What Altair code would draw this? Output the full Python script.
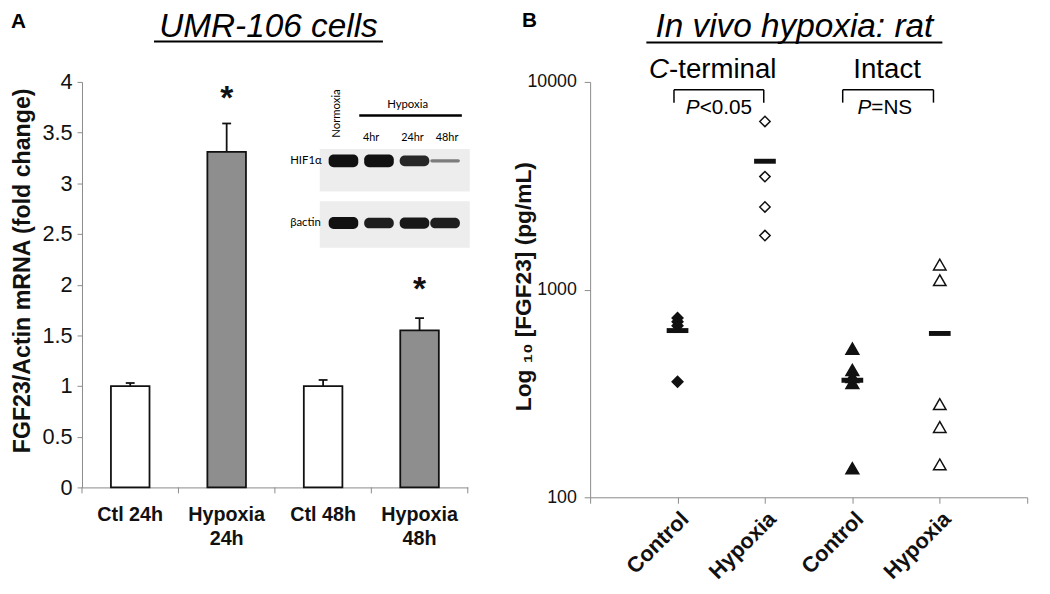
import altair as alt
import pandas as pd

# ---------------- Panel A data ----------------
cats_a = ["Ctl 24h", "Hypoxia 24h", "Ctl 48h", "Hypoxia 48h"]
cond_a = ["Control", "Hypoxia", "Control", "Hypoxia"]
mean_a = [1.00, 3.31, 1.00, 1.55]
sem_a = [0.03, 0.28, 0.06, 0.12]
star_cats = ["Hypoxia 24h", "Hypoxia 48h"]
star_y = [3.85, 1.97]

# western blot inset: relative band intensities per lane
lanes = ["Normoxia", "4hr", "24hr", "48hr"]
hif_int = [1.0, 1.0, 0.85, 0.25]
actin_int = [1.0, 0.9, 0.95, 0.9]

# ---------------- Panel B data ----------------
pos_labels = ["", "Control", "Hypoxia", "Control", "Hypoxia", ""]
ct_ctrl = [730, 700, 670, 360]
ct_hyp = [6450, 3500, 2500, 1820]
in_ctrl = [520, 410, 380, 355, 138]
in_hyp = [1320, 1110, 281, 218, 144]
means_b = [635, 4150, 366, 615]

# ---------------- helpers (annotation / inset drawing) ----------------
one = pd.DataFrame({"d": [0]})
FONT = "Liberation Sans"


def txt(text, x, y, size, **kw):
    kw.setdefault("font", FONT)
    kw.setdefault("color", "black")
    kw.setdefault("baseline", "alphabetic")
    return alt.Chart(one).mark_text(text=text, fontSize=size, **kw).encode(
        x=alt.value(x), y=alt.value(y))


def hline(x1, x2, y, w=1.5, color="black"):
    return alt.Chart(one).mark_rule(strokeWidth=w, color=color).encode(
        x=alt.value(x1), x2=alt.value(x2), y=alt.value(y))


def vline(x, y1, y2, w=1.5, color="black"):
    return alt.Chart(one).mark_rule(strokeWidth=w, color=color).encode(
        x=alt.value(x), y=alt.value(y1), y2=alt.value(y2))


def box(x1, x2, y1, y2, color, radius=0, opacity=1.0):
    return alt.Chart(one).mark_rect(color=color, cornerRadius=radius, opacity=opacity).encode(
        x=alt.value(x1), x2=alt.value(x2), y=alt.value(y1), y2=alt.value(y2))


AXC = "#8a8a8a"
WA, HA = 391, 411
WB, HB = 443, 421

# ---------------- Panel A ----------------
df_a = pd.DataFrame({"cat": cats_a, "cond": cond_a, "mean": mean_a,
                     "top": [m + s for m, s in zip(mean_a, sem_a)]})
df_star = pd.DataFrame({"cat": star_cats, "y": star_y})

label_expr_a = ("datum.label == 'Hypoxia 24h' ? ['Hypoxia', '24h'] : "
                "datum.label == 'Hypoxia 48h' ? ['Hypoxia', '48h'] : datum.label")

xA = alt.X("cat:N", sort=cats_a, title=None,
           scale=alt.Scale(paddingInner=0, paddingOuter=0),
           axis=alt.Axis(ticks=False, labelAngle=0,
                         labelExpr=label_expr_a, labelFontSize=20, labelFontWeight="bold",
                         labelColor="#111", labelLineHeight=24, labelPadding=18,
                         labelBaseline="top", domainColor=AXC, labelFont=FONT))
yA_axis = alt.Axis(values=[0, 0.5, 1, 1.5, 2, 2.5, 3, 3.5, 4], format="~g",
                   labelFontSize=22, labelColor="#111", labelPadding=5, labelFont=FONT,
                   tickSize=5, tickColor=AXC, domainColor=AXC,
                   title="FGF23/Actin mRNA  (fold change)", titleFontSize=23.5,
                   titleFontWeight="bold", titleFont=FONT, titleColor="#111",
                   titleAngle=270, titleBaseline="middle", titleAlign="center",
                   titleX=-60.5, titleY=191)

bars = alt.Chart(df_a).mark_bar(width={"band": 0.4}, stroke="#111", strokeWidth=1.8).encode(
    x=xA,
    y=alt.Y("mean:Q", scale=alt.Scale(domain=[0, 4], nice=False), axis=yA_axis),
    fill=alt.Fill("cond:N", scale=alt.Scale(domain=["Control", "Hypoxia"],
                                            range=["#ffffff", "#8e8e8e"]), legend=None),
)
err = alt.Chart(df_a).mark_rule(strokeWidth=1.8, color="#111").encode(
    x=alt.X("cat:N", sort=cats_a), y="mean:Q", y2="top:Q")
cap = alt.Chart(df_a).mark_tick(orient="horizontal", size=9, thickness=1.8, color="#111",
                                opacity=1).encode(
    x=alt.X("cat:N", sort=cats_a), y="top:Q")
stars = alt.Chart(df_star).mark_text(text="*", fontSize=34, fontWeight="bold", font=FONT,
                                     baseline="middle", dy=2, color="#111").encode(
    x=alt.X("cat:N", sort=cats_a), y="y:Q")

a_layers = [bars, err, cap, stars]
# category-boundary ticks on the x axis (Excel style)
for i in range(len(cats_a) + 1):
    a_layers.append(vline(WA * i / len(cats_a), HA, HA + 6, 1, AXC))
a_layers += [txt("A", -72, -55, 21, fontWeight="bold", align="left"),
             txt("UMR-106 cells", 189, -46, 33.8, fontStyle="italic", align="center"),
             hline(73, 305, -41, 2)]

# western blot inset (drawn in panel-A pixel space)
lane_cx = [265, 301, 337, 368]
a_layers += [box(241, 393, 68, 111, "#ededed"), box(241, 393, 121, 168, "#ededed")]
for cx, v in zip(lane_cx, hif_int):
    h = 13 * v
    a_layers.append(box(cx - 15, cx + 15, 80 - h / 2, 80 + h / 2, "#111",
                        radius=min(5, h / 2), opacity=0.35 + 0.65 * v))
for cx, v in zip(lane_cx, actin_int):
    h = 12 * v
    a_layers.append(box(cx - 15, cx + 15, 143 - h / 2, 143 + h / 2, "#111",
                        radius=5, opacity=0.4 + 0.6 * v))
BF = "Lato"
a_layers += [
    txt("HIF1α", 211, 80, 11.5, font=BF, align="left", baseline="middle"),
    txt("βactin", 211, 143, 11.5, font=BF, align="left", baseline="middle"),
    txt(lanes[0], 258, 32, 11.5, font=BF, angle=270, align="center", baseline="middle"),
    txt("Hypoxia", 330, 23, 11.5, font=BF, align="center", baseline="middle"),
    hline(281, 385, 34, 2.5),
    txt(lanes[1], 293, 57, 11, font=BF, align="center", baseline="middle"),
    txt(lanes[2], 335, 57, 11, font=BF, align="center", baseline="middle"),
    txt(lanes[3], 370, 57, 11, font=BF, align="center", baseline="middle"),
]

panelA = alt.layer(*a_layers).properties(width=WA, height=HA)

# ---------------- Panel B ----------------
df_mean = pd.DataFrame({"pos": [1, 2, 3, 4], "value": means_b})

label_expr_b = "[" + ",".join("'%s'" % s for s in pos_labels) + "][datum.value]"
xB = alt.X("pos:Q", title=None, scale=alt.Scale(domain=[0, 5], nice=False),
           axis=alt.Axis(values=[0, 1, 2, 3, 4, 5], labelExpr=label_expr_b, labelAngle=315,
                         labelFontSize=22, labelFontWeight="bold", labelColor="#111",
                         labelFont=FONT, tickSize=6, tickColor=AXC, domainColor=AXC,
                         labelPadding=5))
yB = alt.Y("value:Q", scale=alt.Scale(type="log", domain=[100, 10000], nice=False),
           axis=alt.Axis(values=[100, 1000, 10000], format="d", labelFontSize=18,
                         labelColor="#111", labelFont=FONT, labelPadding=8, tickSize=6,
                         tickColor=AXC, domainColor=AXC,
                         title="Log ₁₀ [FGF23] (pg/mL)", titleFontSize=23,
                         titleFontWeight="bold", titleFont=FONT, titleColor="#111",
                         titleAngle=270, titleBaseline="middle", titleAlign="center",
                         titleX=-67, titleY=207))

b_layers = []
for pos, vals, shape, fill, size in [(1, ct_ctrl, "diamond", "#111", 120),
                                     (2, ct_hyp, "diamond", "#ffffff", 110),
                                     (3, in_ctrl, "triangle-up", "#111", 170),
                                     (4, in_hyp, "triangle-up", "#ffffff", 160)]:
    d = pd.DataFrame({"pos": [pos] * len(vals), "value": vals})
    b_layers.append(alt.Chart(d).mark_point(shape=shape, filled=True, fill=fill, stroke="#111",
                                            strokeWidth=1.5, size=size, opacity=1).encode(
        x=xB, y=yB))
mbar = alt.Chart(df_mean).mark_tick(orient="horizontal", size=22, thickness=5, color="#111",
                                    opacity=1).encode(x="pos:Q", y="value:Q")

b_layers += [mbar,
             txt("B", -69, -56, 21, fontWeight="bold", align="left"),
             txt("In vivo hypoxia: rat", 207, -46, 33.8, fontStyle="italic", align="center"),
             hline(57, 357, -40, 2),
             txt("C", 80, -4, 28, fontStyle="italic", align="right"),
             txt("-terminal", 80, -4, 28, align="left"),
             txt("Intact", 301, -4, 28, align="center"),
             hline(85, 176, 8, 1.5), vline(85, 8, 21, 1.5), vline(176, 8, 21, 1.5),
             hline(256, 348, 8, 1.5), vline(256, 8, 21, 1.5), vline(348, 8, 21, 1.5),
             txt("P", 111, 33, 21, fontStyle="italic", align="right"),
             txt("<0.05", 111, 33, 21, align="left"),
             txt("P", 285, 33, 21, fontStyle="italic", align="right"),
             txt("=NS", 285, 33, 21, align="left"),
             ]
panelB = alt.layer(*b_layers).properties(width=WB, height=HB)

chart = alt.hconcat(panelA, panelB, spacing=124, bounds="flush").configure(
    font=FONT).configure_view(stroke=None).configure_axis(grid=False).properties(
    padding={"left": 2, "top": -2, "right": 0, "bottom": 0})

chart.save("out.html", embed_options={"renderer": "svg", "actions": False})
